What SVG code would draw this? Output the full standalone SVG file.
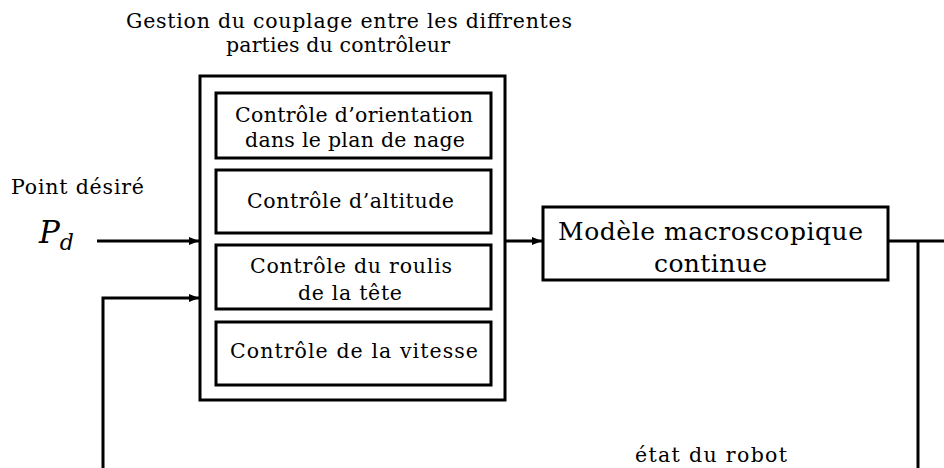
<svg xmlns="http://www.w3.org/2000/svg" width="944" height="468" viewBox="0 0 944 468">
<defs>
<marker id="ah" viewBox="0 0 10 10" refX="10" refY="5" markerWidth="10" markerHeight="10" markerUnits="userSpaceOnUse" orient="auto">
<path d="M0,1 L10,5 L0,9 Z" fill="#000"/>
</marker>
</defs>
<style>
.t{fill:#000}
.box{fill:#fff;stroke:#000;stroke-width:3}
.ln{fill:none;stroke:#000;stroke-width:3}
.s{font-size:20.5px}
.m{font-size:25px}
</style>
<g font-family="'DejaVu Serif', serif">
<g id="title">
<text class="t s" x="126" y="28" textLength="446" lengthAdjust="spacing">Gestion du couplage entre les diffrentes</text>
<text class="t s" x="226" y="52" textLength="224" lengthAdjust="spacing">parties du contrôleur</text>
</g>
<g id="input-label">
<text class="t s" x="11" y="194" textLength="133" lengthAdjust="spacing">Point désiré</text>
<text class="t" x="39" y="243" font-size="31" font-style="italic">P<tspan dy="7" font-size="22">d</tspan></text>
</g>
<g id="controller">
<rect class="box" x="200" y="76" width="305" height="324"/>
</g>
<g id="ctrl-orientation">
<rect class="box" x="216" y="93" width="275" height="65"/>
<text class="t s" x="235" y="122" textLength="238" lengthAdjust="spacing">Contrôle d’orientation</text>
<text class="t s" x="245" y="147" textLength="220" lengthAdjust="spacing">dans le plan de nage</text>
</g>
<g id="ctrl-altitude">
<rect class="box" x="216" y="170" width="275" height="63"/>
<text class="t s" x="247" y="208" textLength="207" lengthAdjust="spacing">Contrôle d’altitude</text>
</g>
<g id="ctrl-roulis">
<rect class="box" x="216" y="245" width="275" height="64"/>
<text class="t s" x="250" y="273" textLength="202" lengthAdjust="spacing">Contrôle du roulis</text>
<text class="t s" x="298" y="300" textLength="104" lengthAdjust="spacing">de la tête</text>
</g>
<g id="ctrl-vitesse">
<rect class="box" x="216" y="322" width="275" height="63"/>
<text class="t s" x="230" y="358" textLength="248" lengthAdjust="spacing">Contrôle de la vitesse</text>
</g>
<g id="model">
<rect class="box" x="543" y="207" width="345" height="73"/>
<text class="t m" x="558" y="240" textLength="305" lengthAdjust="spacing">Modèle macroscopique</text>
<text class="t m" x="654" y="272" textLength="113" lengthAdjust="spacing">continue</text>
</g>
<g id="state-label">
<text class="t s" x="635" y="462" textLength="152" lengthAdjust="spacing">état du robot</text>
</g>
</g>
<g id="connectors">
<line class="ln" x1="97" y1="241" x2="199" y2="241" marker-end="url(#ah)"/>
<polyline class="ln" points="103,468 103,298 199,298" marker-end="url(#ah)"/>
<line class="ln" x1="505" y1="241" x2="542" y2="241" marker-end="url(#ah)"/>
<line class="ln" x1="888" y1="241" x2="944" y2="241"/>
<polyline class="ln" points="918,468 918,241"/>
</g>
</svg>
